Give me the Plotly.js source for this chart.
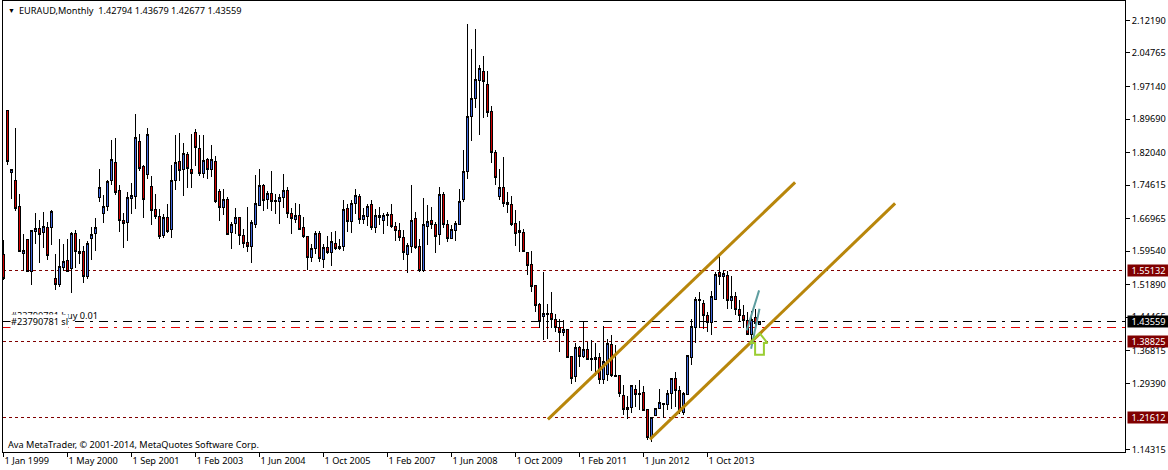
<!DOCTYPE html>
<html><head><meta charset="utf-8">
<script src="https://cdn.plot.ly/plotly-3.0.1.min.js"></script>
<style>html,body{margin:0;padding:0;background:#fff}#c{width:1168px;height:470px}
#c .shapelayer path,#c .boxes path,#c .xtick path,#c .ytick path,#c .crisp{shape-rendering:crispEdges}</style></head>
<body><div id="c"></div>
<script>
const highs=[1.6215,1.9166,1.7812,1.8770,1.7249,1.6352,1.6215,1.6420,1.6824,1.6671,1.6854,1.6618,1.6884,1.5896,1.6238,1.6124,1.6238,1.6390,1.6443,1.6238,1.6063,1.6185,1.6497,1.6702,1.7835,1.7227,1.7584,1.8481,1.8542,1.7455,1.6824,1.7310,1.7516,1.9090,1.8634,1.7911,1.8770,1.7660,1.7265,1.6922,1.6793,1.7036,1.7911,1.8595,1.8641,1.8428,1.8215,1.8618,1.8748,1.8595,
1.8595,1.8086,1.8367,1.8116,1.7379,1.7379,1.7181,1.6626,1.6945,1.6740,1.6451,1.6953,1.6671,1.7683,1.7835,1.7493,1.7333,1.7774,1.7265,1.7265,1.7706,1.7424,1.6945,1.7044,1.7036,1.6740,1.6291,1.6124,1.6405,1.6405,1.6124,1.6291,1.6390,1.6405,1.6238,1.7113,1.7036,1.7128,1.7363,1.7265,1.6945,1.7036,1.7128,1.6922,1.6968,1.6831,1.6846,1.7021,1.6618,1.6588,
1.6428,1.6139,1.7454,1.6838,1.6222,1.7158,1.6998,1.6952,1.6618,1.7424,1.7302,1.6656,1.6542,1.6648,1.7363,1.8253,2.1128,2.0557,2.1014,2.0192,2.0398,2.0055,1.9257,1.8268,1.7819,1.8093,1.7295,1.7219,1.6899,1.6641,1.6451,1.5933,1.5949,1.5188,1.4777,1.5469,1.4739,1.5013,1.4526,1.4404,1.4374,1.4184,1.3553,1.3864,1.3781,1.4336,1.3887,1.3933,1.3857,1.3636,
1.4252,1.3956,1.4047,1.3804,1.3112,1.2891,1.2655,1.2883,1.2906,1.3020,1.2883,1.2337,1.2169,1.2359,1.2816,1.2489,1.2793,1.3052,1.3196,1.2877,1.2740,1.3591,1.4405,1.4907,1.5029,1.4831,1.4565,1.5036,1.5478,1.5835,1.5531,1.5500,1.5379,1.5021,1.4831,1.4717,1.4565,1.4580,1.4641,1.43679];
const opens=[1.5881,1.9166,1.7759,1.7569,1.6976,1.5911,1.6215,1.5500,1.6413,1.6466,1.6375,1.6489,1.6489,1.5325,1.5204,1.5592,1.5736,1.5569,1.6352,1.5941,1.5941,1.5386,1.6253,1.6367,1.7189,1.6824,1.6968,1.7561,1.7972,1.7333,1.6649,1.6618,1.7166,1.7196,1.8451,1.7881,1.7713,1.7424,1.6900,1.6755,1.6322,1.6717,1.6443,1.7561,1.7995,1.7812,1.8154,1.7812,1.8656,1.8291,
1.7736,1.8040,1.7827,1.7995,1.7310,1.6960,1.7128,1.6375,1.6595,1.6717,1.6322,1.6147,1.6055,1.6573,1.7006,1.7447,1.7128,1.7265,1.7113,1.7097,1.7173,1.7333,1.6808,1.6687,1.6763,1.6489,1.6284,1.5820,1.6025,1.6352,1.5759,1.6032,1.5934,1.6124,1.6010,1.6055,1.6922,1.6626,1.7036,1.7196,1.6671,1.6740,1.7014,1.6489,1.6763,1.6649,1.6785,1.6785,1.6512,1.6420,
1.6260,1.5873,1.6070,1.6694,1.6055,1.5515,1.6519,1.6648,1.6557,1.6329,1.7241,1.6557,1.6253,1.6435,1.6572,1.7143,1.7781,1.9021,1.9432,1.9842,2.0048,1.9751,1.9135,1.8200,1.7196,1.7401,1.7059,1.7013,1.6580,1.6420,1.6375,1.5918,1.5644,1.5172,1.4731,1.4458,1.4526,1.4526,1.4404,1.4207,1.4108,1.4161,1.3545,1.3089,1.3750,1.3560,1.3705,1.3499,1.3522,1.3522,
1.3020,1.3142,1.3819,1.3127,1.3112,1.2655,1.2336,1.2397,1.2792,1.2716,1.2724,1.2337,1.1713,1.2207,1.2375,1.2451,1.2451,1.2702,1.3052,1.2770,1.2283,1.2694,1.3531,1.4223,1.4846,1.4755,1.4496,1.4337,1.4862,1.5478,1.5371,1.5394,1.4839,1.4930,1.4633,1.4496,1.4382,1.4063,1.4436,1.42794];
const closes=[1.5341,1.8010,1.7812,1.6938,1.5957,1.5964,1.5493,1.6420,1.6466,1.6344,1.6512,1.5865,1.6862,1.5204,1.5599,1.5713,1.5500,1.6352,1.5957,1.5911,1.5386,1.6124,1.6329,1.6489,1.7401,1.6968,1.7546,1.8040,1.7303,1.6649,1.6595,1.7173,1.7219,1.8542,1.7850,1.7143,1.8611,1.6877,1.6755,1.6299,1.6717,1.6413,1.7561,1.7972,1.7789,1.8177,1.7850,1.7721,1.8314,1.7721,
1.8018,1.7827,1.8040,1.7097,1.6960,1.7128,1.6344,1.6557,1.6717,1.6322,1.6139,1.6055,1.6603,1.7036,1.7447,1.7105,1.7265,1.7097,1.7097,1.7173,1.7333,1.6808,1.6694,1.6763,1.6459,1.6284,1.5820,1.6010,1.6352,1.5782,1.6032,1.5934,1.6170,1.6010,1.6055,1.6900,1.6626,1.7036,1.7219,1.6671,1.6763,1.6968,1.6489,1.6763,1.6717,1.6763,1.6763,1.6512,1.6420,1.6261,
1.5933,1.6078,1.6648,1.6047,1.5515,1.6557,1.6625,1.6557,1.6298,1.7241,1.6557,1.6253,1.6443,1.6580,1.7082,1.7766,1.9021,1.9432,1.9865,2.0116,1.9820,1.9127,1.8200,1.7629,1.7401,1.7036,1.7013,1.6572,1.6352,1.6375,1.5956,1.5637,1.5158,1.4724,1.4359,1.4526,1.4511,1.4404,1.4207,1.4108,1.4161,1.3537,1.3058,1.3750,1.3553,1.3705,1.3492,1.3492,1.3492,1.3020,
1.3431,1.3842,1.3127,1.3096,1.2701,1.2336,1.2397,1.2883,1.2693,1.2693,1.2328,1.1713,1.2169,1.2359,1.2496,1.2489,1.2702,1.3052,1.2770,1.2299,1.2702,1.3576,1.4230,1.4854,1.4839,1.4496,1.4337,1.4915,1.5417,1.5386,1.5439,1.4839,1.4930,1.4633,1.4496,1.4382,1.4063,1.4390,1.4314,1.43559];
const lows=[1.5287,1.7911,1.7143,1.6869,1.5957,1.5500,1.5478,1.5173,1.6109,1.5683,1.6017,1.5744,1.6086,1.5059,1.5135,1.5500,1.5493,1.4998,1.5561,1.5652,1.5226,1.5318,1.5744,1.5957,1.7074,1.6588,1.6862,1.7455,1.7227,1.6390,1.6025,1.6177,1.6808,1.6922,1.7782,1.6709,1.7607,1.6542,1.6679,1.6230,1.6261,1.6375,1.6253,1.7341,1.7546,1.7204,1.7386,1.7394,1.7888,1.7660,
1.7614,1.7592,1.7637,1.7051,1.6641,1.6770,1.6322,1.6002,1.6352,1.6093,1.6025,1.5934,1.5675,1.6474,1.6983,1.6877,1.6915,1.6877,1.6801,1.6565,1.6945,1.6702,1.6344,1.6588,1.6443,1.6261,1.5515,1.5706,1.5881,1.5706,1.5569,1.5888,1.5614,1.5972,1.5979,1.5957,1.6398,1.6367,1.6808,1.6580,1.6565,1.6535,1.6443,1.6375,1.6542,1.6344,1.6535,1.6489,1.6192,1.6185,
1.5743,1.5454,1.5911,1.6002,1.5477,1.5477,1.6086,1.6466,1.5911,1.6093,1.6473,1.6162,1.6222,1.6184,1.6557,1.7074,1.7599,1.8466,1.9219,1.8595,1.8991,1.9013,1.7964,1.7462,1.7120,1.6960,1.6823,1.6527,1.6070,1.5933,1.5933,1.5409,1.5021,1.4564,1.4207,1.3918,1.3956,1.4207,1.4108,1.3651,1.4009,1.3522,1.2921,1.2967,1.3309,1.3522,1.3461,1.3218,1.3096,1.2929,
1.2921,1.2990,1.3081,1.3081,1.2625,1.2207,1.2123,1.2260,1.2397,1.2336,1.2305,1.1637,1.1598,1.2192,1.2359,1.2154,1.2321,1.2359,1.2397,1.2230,1.2207,1.2664,1.3356,1.3850,1.4207,1.4185,1.4109,1.4040,1.4854,1.5173,1.4869,1.4641,1.4641,1.4489,1.4337,1.4207,1.4033,1.3766,1.4185,1.42677];

const dateTickBars=[0,16,32,48,64,80,96,112,128,144,160,176];
const dateTickLabels=["1 Jan 1999","1 May 2000","1 Sep 2001","1 Feb 2003","1 Jun 2004","1 Oct 2005","1 Feb 2007","1 Jun 2008","1 Oct 2009","1 Feb 2011","1 Jun 2012","1 Oct 2013"];
const priceTicks=[2.12190,2.04765,1.97140,1.89690,1.82040,1.74615,1.66965,1.59540,1.51890,1.44465,1.36815,1.29390,1.14315];
const priceTickLabels=["2.12190","2.04765","1.97140","1.89690","1.82040","1.74615","1.66965","1.59540","1.51890","1.44465","1.36815","1.29390","1.14315"];
const levels=[1.55132,1.38825,1.21612];
const levelLabels=["1.55132","1.38825","1.21612"];
const lastPrice=1.43559, stopPrice=1.4212;
const upperChannelX=[136.1,197.9], upperChannelY=[1.2115,1.7523];
const lowerChannelX=[161.6,222.9], lowerChannelY=[1.1659,1.7044];
const fanAX=[185.8,188.9], fanAY=[1.4146,1.5059];
const fanBX=[186.9,189.0], fanBY=[1.3729,1.4641];
const arrowX=[189.0,186.6,187.9,187.9,190.1,190.1,191.0,189.0];
const arrowY=[1.4085,1.3857,1.3857,1.3592,1.3592,1.3857,1.3857,1.4085];

const font='"Noto Sans", sans-serif';
const fs=9.2;
const candle={type:'candlestick',x:opens.map((_,i)=>i),open:opens,high:highs,low:lows,close:closes,
  increasing:{line:{color:'#000',width:1},fillcolor:'#4169E1'},
  decreasing:{line:{color:'#000',width:1},fillcolor:'#D00000'},
  hoverinfo:'skip',showlegend:false};
const ln=(x,y,color,width)=>({type:'scatter',mode:'lines',x,y,line:{color,width},hoverinfo:'skip',showlegend:false});
const data=[candle,
  ln(upperChannelX,upperChannelY,'#B8860B',3),
  ln(lowerChannelX,lowerChannelY,'#B8860B',3),
  ln(fanAX,fanAY,'#5F9EA0',2),
  ln(fanBX,fanBY,'#5F9EA0',2),
  ln(arrowX,arrowY,'#9ACD32',2)];
const hline=(y,color,dash)=>({type:'line',xref:'paper',x0:0,x1:1,yref:'y',y0:y,y1:y,layer:'below',line:{color,width:1,dash}});
const shapes=[...levels.map(v=>hline(v,'#800000','3px,3px')),
  hline(lastPrice,'#000000','9px,6px,3px,6px'),
  hline(stopPrice,'#E00000','9px,6px,3px,6px')];
const tag=(y,text,bg)=>({xref:'paper',x:1,xshift:2,xanchor:'left',yref:'y',y,yanchor:'middle',text,showarrow:false,
  bgcolor:bg,borderpad:0,width:41,height:11,align:'center',font:{family:font,size:fs,color:'#fff'}});
const note=(xpx,y,text,extra)=>Object.assign({xref:'paper',x:0,xshift:xpx,xanchor:'left',yref:'y',y,yanchor:'middle',text,showarrow:false,
  borderpad:0,font:{family:font,size:fs,color:'#000'}},extra||{});
const annotations=[
  note(4,2.1447,'▼',{font:{family:font,size:7,color:'#000'}}),
  note(15,2.1447,'EURAUD,Monthly  1.42794 1.43679 1.42677 1.43559'),
  note(7,1.4477,'#23790781 buy 0.01'),
  note(7,1.4340,'#23790781 sl',{bgcolor:'#fff'}),
  note(4,1.1535,'Ava MetaTrader, © 2001-2014, MetaQuotes Software Corp.'),
  ...levels.map((v,k)=>tag(v,levelLabels[k],'#800000')),
  tag(lastPrice,'1.43559','#000000')
];
const layout={width:1168,height:470,paper_bgcolor:'#fff',plot_bgcolor:'#fff',
  margin:{l:3,r:43,t:1,b:18,pad:0},showlegend:false,boxgap:0.35,
  font:{family:font,size:fs,color:'#000'},
  xaxis:{type:'linear',range:[-0.125,280.375],tickmode:'array',tickvals:dateTickBars,ticktext:dateTickLabels,tickangle:0,
    ticks:'outside',ticklen:4,tickcolor:'#000',showgrid:false,zeroline:false,showline:true,linecolor:'#000',linewidth:1,
    mirror:true,rangeslider:{visible:false},ticklabelposition:'outside right',tickfont:{family:font,size:fs,color:'#000'}},
  yaxis:{side:'right',type:'linear',range:[1.13717,2.16615],tickmode:'array',tickvals:priceTicks,ticktext:priceTickLabels,
    ticks:'outside',ticklen:4,tickcolor:'#000',showgrid:false,zeroline:false,showline:true,linecolor:'#000',linewidth:1,
    mirror:true,tickfont:{family:font,size:fs,color:'#000'}},
  shapes,annotations};
Plotly.newPlot('c',data,layout,{displayModeBar:false,staticPlot:true});
</script></body></html>
